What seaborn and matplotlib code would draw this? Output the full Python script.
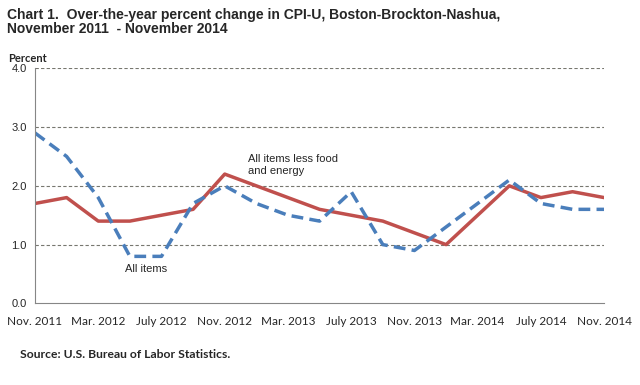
import pandas as pd
import matplotlib.pyplot as plt
import seaborn as sns

# Bimonthly over-the-year percent change, Boston-Brockton-Nashua
periods = ['2011-11', '2012-01', '2012-03', '2012-05', '2012-07', '2012-09',
           '2012-11', '2013-01', '2013-03', '2013-05', '2013-07', '2013-09',
           '2013-11', '2014-01', '2014-03', '2014-05', '2014-07', '2014-09',
           '2014-11']
all_items = [2.9, 2.5, 1.8, 0.8, 0.8, 1.7, 2.0, 1.7, 1.5, 1.4, 1.9, 1.0,
             0.9, 1.3, 1.7, 2.1, 1.7, 1.6, 1.6]
core = [1.7, 1.8, 1.4, 1.4, 1.5, 1.6, 2.2, 2.0, 1.8, 1.6, 1.5, 1.4,
        1.2, 1.0, 1.5, 2.0, 1.8, 1.9, 1.8]
tick_labels = ['Nov. 2011', 'Mar. 2012', 'July 2012', 'Nov. 2012', 'Mar. 2013',
               'July 2013', 'Nov. 2013', 'Mar. 2014', 'July 2014', 'Nov. 2014']
y_ticks = [0.0, 1.0, 2.0, 3.0, 4.0]

# month index counted from Nov 2011
dates = pd.to_datetime(periods)
month = (dates.year - 2011) * 12 + dates.month - 11
df = pd.DataFrame({'month': month, 'all': all_items, 'core': core})

sns.set_style('white')
plt.rcParams['font.family'] = ['Liberation Sans', 'DejaVu Sans']

fig = plt.figure(figsize=(6.4, 3.85), dpi=100)
ax = fig.add_axes([0.0547, 0.212, 0.8893, 0.6106])

sns.lineplot(data=df, x='month', y='core', ax=ax, color='#C0504D', linewidth=2.5)
sns.lineplot(data=df, x='month', y='all', ax=ax, color='#4A7EBB', linewidth=2.5,
             linestyle=(0, (3.4, 1.8)))

ax.set_xlim(0, 36)
ax.set_ylim(0, 4)
ax.set_xlabel('')
ax.set_ylabel('')

# tick marks every 3 months, labels every 4 months
ax.xaxis.remove_overlapping_locs = False
ax.set_xticks(range(0, 37, 3))
ax.set_xticklabels([''] * 13)
ax.set_xticks(range(0, 37, 4), minor=True)
ax.set_xticklabels(tick_labels, minor=True, family=['Lato', 'DejaVu Sans'], fontsize=8.5)
ax.tick_params(axis='x', which='major', direction='inout', length=6, width=0.8, color='#868686')
ax.tick_params(axis='x', which='minor', length=0, pad=9)

ax.set_yticks(y_ticks)
ax.set_yticklabels([f'{v:.1f}' for v in y_ticks], fontsize=8)
ax.tick_params(axis='y', direction='inout', length=6, width=0.8, color='#868686', pad=3)

for v in y_ticks[1:]:
    ax.axhline(v, color='#77776F', linewidth=0.8, linestyle=(0, (3, 2)), zorder=0)

for side in ['top', 'right']:
    ax.spines[side].set_visible(False)
for side in ['left', 'bottom']:
    ax.spines[side].set_color('#868686')
    ax.spines[side].set_linewidth(0.8)

ax.text(13.5, 2.16, 'All items less food\nand energy', fontsize=8, linespacing=1.25, va='bottom')
ax.text(5.7, 0.53, 'All items', fontsize=8, va='baseline')

fig.text(0.011, 0.978, 'Chart 1.  Over-the-year percent change in CPI-U, Boston-Brockton-Nashua,\nNovember 2011  - November 2014',
         fontsize=10, fontweight='bold', va='top', linespacing=0.95)
fig.text(0.013, 0.840, 'Percent', fontsize=8, fontweight='bold', family=['Lato', 'DejaVu Sans'])
fig.text(0.031, 0.07, 'Source: U.S. Bureau of Labor Statistics.', fontsize=8.7,
         fontweight='bold', family=['Lato', 'DejaVu Sans'])

fig.savefig('out.png', dpi=100)
